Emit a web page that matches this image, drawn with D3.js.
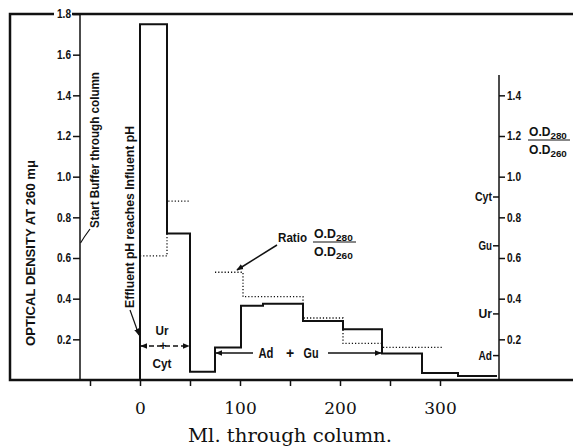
<!DOCTYPE html>
<html>
<head>
<meta charset="utf-8">
<script src="https://cdn.jsdelivr.net/npm/d3@7"></script>
<style>
    body { margin: 0; background: #fff; }
    .lbl { font-family: "Liberation Sans", "DejaVu Sans", sans-serif; font-weight: bold; fill: #111; }
    .serif { font-family: "DejaVu Serif", "Liberation Serif", serif; fill: #111; }
</style>
</head>
<body>
<div id="chart"></div>
<script>
// DATA
// optical density at 260 (solid steps): bin edges in ml and values
const odEdges = [0, 27, 50, 75, 101, 123, 163, 203, 242, 282, 318, 357];
const odValues = [1.75, 0.72, 0.04, 0.16, 0.365, 0.375, 0.29, 0.25, 0.13, 0.035, 0.02];

// ratio OD280/OD260 (dotted steps), two runs
const ratioEdgesA = [0, 27, 50];
const ratioValuesA = [0.61, 0.88];
const ratioEdgesB = [75, 103, 163, 203, 242, 302];
const ratioValuesB = [0.53, 0.41, 0.305, 0.18, 0.16];

const xTicks = [-50, 0, 50, 100, 150, 200, 250, 300];
const xLabels = [0, 100, 200, 300];
const odTicks = [0.2, 0.4, 0.6, 0.8, 1.0, 1.2, 1.4, 1.6, 1.8];
const ratioTicks = [0.2, 0.4, 0.6, 0.8, 1.0, 1.2, 1.4];
const baseNames = ["Cyt", "Gu", "Ur", "Ad"];
const baseRatios = [0.9, 0.66, 0.325, 0.12];

// VARIABLES
const width = 573;
const height = 446;
const frame = {left: 10, top: 14, bottom: 380};
const axisX = 80;
const rightX = 499;

function stepPath(edges, values, scale, fromZero) {
    let p = `M ${x(edges[0])} ${scale(fromZero ? 0 : values[0])}`;
    values.forEach((v, i) => {
        p += ` V ${scale(v)} H ${x(edges[i + 1])}`;
    });
    return p;
}

// squeeze a text to a given length (the print uses a condensed face)
function fit(sel, len) {
    sel.attr("textLength", len).attr("lengthAdjust", "spacingAndGlyphs");
}

// CHART SETUP
const x = d3.scaleLinear().domain([0, 100]).range([140, 240]);
const y = d3.scaleLinear().domain([0, 1.8]).range([frame.bottom, frame.top]);
const yR = d3.scaleLinear().domain([0, 1.8]).range([frame.bottom, frame.top]);

const svg = d3.select("#chart").append("svg")
    .attr("width", width)
    .attr("height", height);

const defs = svg.append("defs");
defs.append("marker")
    .attr("id", "head")
    .attr("viewBox", "0 0 10 10")
    .attr("refX", 9).attr("refY", 5)
    .attr("markerWidth", 7).attr("markerHeight", 7)
    .attr("markerUnits", "userSpaceOnUse")
    .attr("orient", "auto-start-reverse")
    .append("path")
    .attr("d", "M 0 1 L 10 5 L 0 9 z")
    .attr("fill", "#111");

// frame
svg.append("path")
    .attr("d", `M ${width} ${frame.top} H ${frame.left} V ${frame.bottom} H ${width}`)
    .attr("fill", "none")
    .attr("stroke", "#111")
    .attr("stroke-width", 2.5);

// left axis
const leftAxis = svg.append("g")
    .attr("transform", `translate(${axisX},0)`)
    .call(d3.axisLeft(y).tickValues(odTicks).tickSize(7).tickPadding(2).tickFormat(d3.format(".1f")));
leftAxis.select(".domain").remove();
leftAxis.selectAll(".tick line").attr("stroke", "#111").attr("stroke-width", 1.5);
leftAxis.selectAll(".tick text").attr("class", "lbl").attr("font-size", 12).call(fit, 14);
leftAxis.selectAll(".tick").filter(d => d === 1.8).insert("rect", "text")
    .attr("x", -26).attr("y", -5).attr("width", 18).attr("height", 10)
    .attr("fill", "#fff");
svg.append("line")
    .attr("x1", axisX).attr("x2", axisX)
    .attr("y1", y(1.8)).attr("y2", y(0))
    .attr("stroke", "#111").attr("stroke-width", 1.5);

svg.append("text")
    .attr("class", "lbl")
    .attr("transform", `translate(35, 253) rotate(-90)`)
    .attr("text-anchor", "middle")
    .attr("font-size", 12)
    .text("OPTICAL DENSITY AT 260 mμ")
    .call(fit, 186);

// bottom axis
const bottomAxis = svg.append("g")
    .attr("transform", `translate(0,${frame.bottom})`)
    .call(d3.axisBottom(x).tickValues(xTicks).tickSize(6).tickPadding(16)
        .tickFormat(d => xLabels.includes(d) ? d : ""));
bottomAxis.select(".domain").remove();
bottomAxis.selectAll(".tick line").attr("stroke", "#111").attr("stroke-width", 1.5);
bottomAxis.selectAll(".tick text").attr("class", "serif").attr("font-size", 17);

svg.append("text")
    .attr("class", "serif")
    .attr("x", 290).attr("y", 442)
    .attr("text-anchor", "middle")
    .attr("font-size", 18)
    .text("Ml. through column.")
    .call(fit, 204);

// right ratio axis
const rightAxis = svg.append("g")
    .attr("transform", `translate(${rightX},0)`)
    .call(d3.axisRight(yR).tickValues(ratioTicks).tickSize(6).tickPadding(2).tickFormat(d3.format(".1f")));
rightAxis.select(".domain").remove();
rightAxis.selectAll(".tick line").attr("stroke", "#111").attr("stroke-width", 1.5);
rightAxis.selectAll(".tick text").attr("class", "lbl").attr("font-size", 12).call(fit, 14);
svg.append("line")
    .attr("x1", rightX).attr("x2", rightX)
    .attr("y1", yR(1.5)).attr("y2", yR(0))
    .attr("stroke", "#111").attr("stroke-width", 1.5);

const bases = svg.append("g").selectAll("g")
    .data(baseNames)
    .join("g")
    .attr("transform", (d, i) => `translate(${rightX},${yR(baseRatios[i])})`);
bases.append("line")
    .attr("x1", -6).attr("x2", 0)
    .attr("stroke", "#111").attr("stroke-width", 1.5);
bases.append("text")
    .attr("class", "lbl")
    .attr("x", -7).attr("dy", "0.35em")
    .attr("text-anchor", "end")
    .attr("font-size", 12)
    .text(d => d)
    .each(function(d) { d3.select(this).call(fit, d.length === 3 ? 17 : 13.5); });

// O.D280 / O.D260 fraction
function fraction(g, size, len) {
    const num = g.append("text").attr("class", "lbl").attr("font-size", size).attr("y", -4);
    num.append("tspan").text("O.D").call(fit, len * 0.55);
    num.append("tspan").attr("font-size", size * 0.72).attr("dy", 3).text("280").call(fit, len * 0.42);
    const den = g.append("text").attr("class", "lbl").attr("font-size", size).attr("y", size + 2);
    den.append("tspan").text("O.D").call(fit, len * 0.55);
    den.append("tspan").attr("font-size", size * 0.72).attr("dy", 3).text("260").call(fit, len * 0.42);
    g.append("line")
        .attr("x1", -1).attr("x2", len + 2)
        .attr("stroke", "#111").attr("stroke-width", 1.2);
}
fraction(svg.append("g").attr("transform", "translate(529,140)"), 12, 39);

// histograms
svg.append("path")
    .attr("d", stepPath(odEdges, odValues, y, true))
    .attr("fill", "none")
    .attr("stroke", "#111")
    .attr("stroke-width", 2);

[[ratioEdgesA, ratioValuesA], [ratioEdgesB, ratioValuesB]].forEach(([e, v]) => {
    svg.append("path")
        .attr("d", stepPath(e, v, yR, false))
        .attr("fill", "none")
        .attr("stroke", "#111")
        .attr("stroke-width", 1.3)
        .attr("stroke-dasharray", "1.2,2");
});

// ANNOTATIONS
svg.append("text")
    .attr("class", "lbl")
    .attr("transform", "translate(99, 150) rotate(-90)")
    .attr("text-anchor", "middle")
    .attr("font-size", 12)
    .text("Start Buffer through column")
    .call(fit, 156);
svg.append("path")
    .attr("d", "M 90 229 Q 84 237 80.5 243")
    .attr("fill", "none").attr("stroke", "#111").attr("stroke-width", 1.2);

svg.append("text")
    .attr("class", "lbl")
    .attr("transform", "translate(134, 217) rotate(-90)")
    .attr("text-anchor", "middle")
    .attr("font-size", 12)
    .text("Effluent pH reaches Influent pH")
    .call(fit, 182);
svg.append("line")
    .attr("x1", 130).attr("y1", 310).attr("x2", 139).attr("y2", 335)
    .attr("stroke", "#111").attr("stroke-width", 1.2)
    .attr("marker-end", "url(#head)");

// Ur + Cyt
svg.append("line")
    .attr("x1", x(0) + 1).attr("x2", x(50) - 1)
    .attr("y1", 346).attr("y2", 346)
    .attr("stroke", "#111").attr("stroke-width", 1.5)
    .attr("stroke-dasharray", "5,3")
    .attr("marker-start", "url(#head)")
    .attr("marker-end", "url(#head)");
svg.append("text").attr("class", "lbl").attr("x", 162).attr("y", 335)
    .attr("text-anchor", "middle").attr("font-size", 13).text("Ur").call(fit, 13);
svg.append("text").attr("class", "lbl").attr("x", 163).attr("y", 350)
    .attr("text-anchor", "middle").attr("font-size", 12).text("+");
svg.append("text").attr("class", "lbl").attr("x", 162).attr("y", 368)
    .attr("text-anchor", "middle").attr("font-size", 13).text("Cyt").call(fit, 19);

// Ad + Gu
svg.append("line")
    .attr("x1", 216).attr("x2", 253).attr("y1", 353).attr("y2", 353)
    .attr("stroke", "#111").attr("stroke-width", 1.5)
    .attr("marker-start", "url(#head)");
svg.append("line")
    .attr("x1", 328).attr("x2", 381).attr("y1", 353).attr("y2", 353)
    .attr("stroke", "#111").attr("stroke-width", 1.5)
    .attr("marker-end", "url(#head)");
svg.append("text").attr("class", "lbl").attr("x", 266).attr("y", 358)
    .attr("text-anchor", "middle").attr("font-size", 14).text("Ad").call(fit, 15);
svg.append("text").attr("class", "lbl").attr("x", 290).attr("y", 358)
    .attr("text-anchor", "middle").attr("font-size", 14).text("+");
svg.append("text").attr("class", "lbl").attr("x", 311).attr("y", 358)
    .attr("text-anchor", "middle").attr("font-size", 14).text("Gu").call(fit, 15);

// Ratio label
svg.append("text").attr("class", "lbl").attr("x", 278).attr("y", 242)
    .attr("font-size", 13).text("Ratio").call(fit, 29);
fraction(svg.append("g").attr("transform", "translate(314,242)"), 12, 40);
svg.append("line")
    .attr("x1", 277).attr("y1", 245).attr("x2", 237).attr("y2", 270)
    .attr("stroke", "#111").attr("stroke-width", 1.5)
    .attr("marker-end", "url(#head)");
</script>
</body>
</html>
